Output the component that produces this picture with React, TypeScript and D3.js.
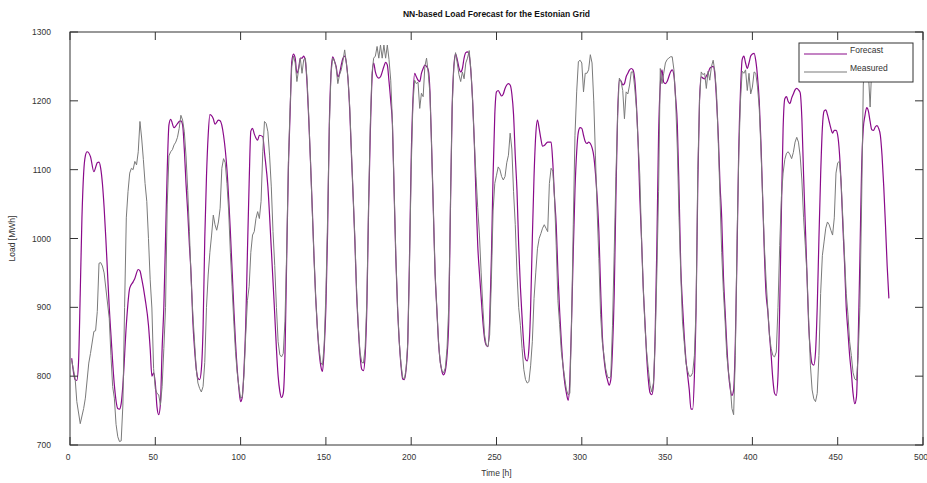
import { useEffect, useRef } from "react";
import * as d3 from "d3";

// hourly load readings [hour, MWh]
const forecast: [number, number][] = [
  [1,826],[3,795],[4,794],[5,820],[6,920],[7,1030],[8,1095],[9,1120],[10,1126],[12,1119],[14,1097],[16,1110],[17,1111],[18,1102],[19,1080],[20,1045],[21,1000],[22,950],[23,900],[24,860],[26,787],[28,753],[29,752],[30,760],[31,787],[33,874],[35,928],[37,937],[38,942],[40,955],[41,953],[42,942],[44,913],[46,874],[47,840],[48,800],[49,805],[50,790],[51,755],[52,744],[53,760],[54,840],[55,900],[56,1000],[57,1100],[58,1165],[59,1173],[61,1161],[63,1167],[64,1170],[65,1171],[66,1165],[67,1130],[68,1080],[69,1039],[70,990],[71,947],[72,880],[73,840],[74,811],[75,797],[76,795],[77,810],[78,870],[79,1000],[80,1090],[81,1150],[82,1180],[84,1174],[85,1166],[87,1172],[88,1171],[90,1150],[92,1100],[94,1010],[96,900],[97,850],[99,782],[100,763],[101,770],[102,810],[103,874],[104,980],[105,1080],[106,1156],[107,1160],[108,1152],[110,1143],[111,1150],[113,1148],[114,1125],[116,1075],[118,985],[120,890],[121,840],[122,800],[123,778],[124,769],[125,775],[126,830],[127,970],[128,1100],[129,1180],[130,1257],[131,1268],[132,1262],[133,1240],[134,1247],[135,1262],[136,1262],[137,1265],[138,1257],[139,1223],[140,1170],[141,1110],[142,1045],[143,975],[144,915],[145,870],[146,836],[147,815],[148,807],[149,840],[150,900],[151,1010],[152,1165],[153,1240],[154,1264],[155,1258],[156,1250],[157,1235],[158,1240],[159,1252],[160,1262],[161,1265],[162,1255],[163,1230],[164,1184],[165,1120],[166,1060],[167,995],[168,920],[169,870],[170,831],[171,810],[172,808],[173,830],[174,900],[175,1040],[176,1150],[177,1230],[178,1255],[179,1242],[180,1235],[181,1233],[182,1235],[184,1250],[185,1256],[186,1252],[187,1228],[188,1200],[189,1165],[190,1068],[191,971],[192,900],[193,850],[194,816],[195,796],[196,795],[197,810],[198,850],[199,971],[200,1116],[201,1200],[202,1240],[203,1235],[204,1230],[205,1228],[206,1240],[207,1247],[208,1252],[209,1250],[210,1245],[211,1213],[212,1130],[213,1040],[214,950],[215,899],[216,850],[218,807],[219,802],[220,808],[221,830],[222,880],[223,1044],[224,1189],[225,1250],[226,1268],[227,1260],[228,1248],[229,1242],[230,1247],[231,1262],[232,1270],[233,1271],[234,1266],[235,1242],[236,1200],[237,1140],[238,1060],[239,990],[240,950],[241,915],[242,880],[243,855],[244,845],[245,843],[246,880],[247,971],[248,1092],[249,1180],[250,1213],[251,1215],[252,1211],[253,1207],[254,1210],[255,1218],[256,1223],[257,1225],[258,1223],[259,1210],[260,1180],[261,1120],[262,1070],[263,990],[264,930],[265,885],[266,845],[267,825],[268,822],[269,840],[270,899],[271,1000],[272,1090],[273,1150],[274,1172],[275,1160],[276,1145],[277,1134],[278,1135],[280,1140],[282,1140],[283,1110],[284,1060],[285,1020],[286,950],[287,895],[288,850],[289,815],[290,790],[291,775],[292,765],[293,795],[294,880],[295,980],[296,1070],[297,1126],[298,1155],[299,1161],[300,1160],[301,1150],[302,1141],[303,1138],[304,1140],[305,1138],[306,1132],[307,1120],[308,1095],[309,1060],[310,1010],[311,930],[312,860],[313,826],[314,806],[315,795],[316,787],[317,795],[318,840],[319,920],[320,1060],[321,1180],[322,1230],[323,1229],[324,1223],[325,1225],[326,1235],[327,1240],[328,1245],[329,1247],[330,1245],[331,1232],[332,1195],[333,1140],[334,1060],[335,1000],[336,930],[337,880],[338,830],[339,795],[340,776],[341,773],[342,787],[343,860],[344,990],[345,1150],[346,1223],[347,1245],[348,1227],[349,1225],[350,1228],[351,1235],[352,1242],[353,1245],[354,1237],[355,1205],[356,1165],[357,1070],[358,960],[359,905],[360,860],[361,825],[362,802],[363,780],[364,752],[365,752],[366,800],[367,900],[368,1080],[369,1200],[370,1235],[371,1233],[372,1232],[373,1236],[374,1240],[375,1247],[376,1249],[377,1250],[378,1238],[379,1200],[380,1150],[381,1080],[382,1030],[383,947],[384,895],[385,845],[386,805],[387,782],[388,772],[389,780],[390,850],[391,980],[392,1130],[393,1213],[394,1260],[395,1265],[396,1255],[397,1247],[398,1255],[399,1265],[400,1268],[401,1269],[402,1258],[403,1235],[404,1200],[405,1140],[406,1060],[407,980],[408,920],[409,895],[410,860],[411,830],[412,795],[413,775],[414,772],[415,800],[416,900],[417,1040],[418,1160],[419,1203],[420,1206],[421,1199],[422,1196],[423,1204],[424,1210],[425,1216],[426,1218],[427,1216],[428,1212],[429,1174],[430,1092],[431,1020],[432,947],[433,874],[434,836],[435,818],[436,816],[437,835],[438,900],[439,1000],[440,1092],[441,1160],[442,1185],[443,1187],[444,1180],[445,1170],[446,1160],[447,1153],[448,1157],[449,1157],[450,1150],[451,1125],[452,1080],[453,1020],[454,965],[455,900],[456,865],[457,830],[458,805],[459,775],[460,760],[461,770],[462,850],[463,970],[464,1100],[465,1160],[466,1179],[467,1190],[468,1185],[469,1170],[470,1158],[471,1157],[472,1162],[473,1164],[474,1160],[475,1150],[476,1120],[477,1075],[478,1020],[479,960],[480,913],
];

const measured: [number, number][] = [
  [1,823],[3,797],[4,763],[6,731],[8,753],[9,768],[11,819],[12,833],[14,865],[15,866],[16,894],[17,964],[18,965],[19,960],[20,950],[21,928],[23,884],[24,830],[25,785],[26,768],[27,730],[28,712],[29,705],[30,706],[31,758],[32,900],[33,1030],[34,1068],[35,1095],[36,1102],[37,1100],[38,1112],[39,1107],[40,1126],[41,1170],[42,1146],[43,1115],[44,1080],[45,1054],[46,1000],[47,940],[48,899],[49,811],[50,782],[51,775],[52,773],[53,758],[54,785],[55,840],[56,900],[57,1050],[58,1120],[59,1126],[60,1129],[61,1136],[62,1140],[63,1147],[64,1160],[65,1179],[66,1172],[67,1155],[68,1120],[69,1070],[70,1010],[71,940],[72,890],[73,850],[74,810],[75,790],[76,782],[77,777],[78,785],[79,820],[80,900],[81,947],[82,980],[83,1005],[84,1034],[85,1020],[86,1012],[87,1024],[88,1044],[89,1102],[90,1116],[91,1110],[92,1080],[93,1040],[94,980],[95,930],[96,880],[97,836],[98,805],[99,785],[100,768],[101,770],[102,802],[103,860],[104,910],[105,930],[106,980],[107,1005],[108,1010],[109,1029],[110,1039],[111,1029],[112,1054],[113,1126],[114,1170],[115,1167],[116,1155],[117,1120],[118,1075],[119,1010],[120,961],[121,900],[122,850],[123,831],[124,828],[125,833],[126,880],[127,980],[128,1110],[129,1190],[130,1250],[131,1265],[132,1255],[133,1228],[134,1245],[135,1262],[136,1240],[137,1260],[138,1262],[139,1230],[140,1175],[141,1110],[142,1040],[143,975],[144,915],[145,870],[146,840],[147,820],[148,816],[149,845],[150,920],[151,1030],[152,1160],[153,1240],[154,1262],[155,1258],[156,1248],[157,1225],[158,1238],[159,1245],[160,1258],[161,1274],[162,1255],[163,1232],[164,1190],[165,1125],[166,1060],[167,1000],[168,925],[169,872],[170,835],[171,820],[172,819],[173,840],[174,910],[175,1050],[176,1165],[177,1240],[178,1262],[179,1265],[180,1279],[181,1262],[182,1281],[183,1262],[184,1281],[185,1262],[186,1281],[187,1260],[188,1230],[189,1170],[190,1070],[191,975],[192,900],[193,850],[194,818],[195,798],[196,796],[197,810],[198,850],[199,960],[200,1100],[201,1195],[202,1230],[203,1225],[204,1227],[205,1189],[206,1211],[207,1206],[208,1250],[209,1262],[210,1240],[211,1210],[212,1130],[213,1040],[214,950],[215,899],[216,850],[217,820],[218,808],[219,805],[220,812],[221,840],[222,900],[223,1050],[224,1190],[225,1250],[226,1270],[227,1255],[228,1238],[229,1228],[230,1242],[231,1232],[232,1255],[233,1262],[234,1273],[235,1245],[236,1200],[237,1140],[238,1090],[239,1045],[240,1005],[241,950],[242,900],[243,860],[244,845],[245,843],[246,860],[247,940],[248,1040],[249,1080],[250,1092],[251,1104],[252,1100],[253,1090],[254,1085],[255,1090],[256,1110],[257,1121],[258,1153],[259,1130],[260,1068],[261,1020],[262,950],[263,900],[264,874],[265,840],[266,810],[267,795],[268,790],[269,792],[270,815],[271,850],[272,913],[273,950],[274,985],[275,1000],[276,1007],[277,1015],[278,1020],[279,1015],[280,1010],[281,1080],[282,1102],[283,1098],[284,1060],[285,990],[286,910],[287,875],[288,836],[289,815],[290,797],[291,780],[292,773],[293,775],[294,880],[295,1020],[296,1150],[297,1213],[298,1257],[299,1259],[300,1255],[301,1213],[302,1240],[303,1240],[304,1245],[305,1267],[306,1255],[307,1200],[308,1120],[309,1040],[310,971],[311,890],[312,850],[313,830],[314,811],[315,800],[316,797],[317,800],[318,874],[319,980],[320,1090],[321,1180],[322,1233],[323,1228],[324,1215],[325,1174],[326,1213],[327,1210],[328,1223],[329,1242],[330,1242],[331,1220],[332,1190],[333,1140],[334,1092],[335,1000],[336,930],[337,874],[338,835],[339,810],[340,787],[341,777],[342,790],[343,850],[344,950],[345,1068],[346,1247],[347,1225],[348,1240],[349,1255],[350,1260],[351,1262],[352,1264],[353,1264],[354,1245],[355,1200],[356,1130],[357,1030],[358,950],[359,880],[360,850],[361,820],[362,808],[363,800],[364,800],[365,805],[366,830],[367,900],[368,1100],[369,1200],[370,1242],[371,1238],[372,1240],[373,1218],[374,1243],[375,1230],[376,1250],[377,1259],[378,1243],[379,1210],[380,1140],[381,1060],[382,980],[383,923],[384,880],[385,830],[386,805],[387,787],[388,753],[389,744],[390,830],[391,1000],[392,1120],[393,1200],[394,1243],[395,1240],[396,1245],[397,1215],[398,1240],[399,1210],[400,1220],[401,1242],[402,1240],[403,1220],[404,1190],[405,1130],[406,1060],[407,990],[408,940],[409,899],[410,860],[411,840],[412,830],[413,828],[414,835],[415,900],[416,990],[417,1060],[418,1095],[419,1115],[420,1124],[421,1126],[422,1122],[423,1116],[424,1125],[425,1140],[426,1147],[427,1140],[428,1120],[429,1085],[430,1030],[431,990],[432,947],[433,880],[434,816],[435,780],[436,767],[437,763],[438,775],[439,830],[440,920],[441,975],[442,995],[443,1015],[444,1024],[445,1020],[446,1012],[447,1005],[448,1030],[449,1095],[450,1110],[451,1112],[452,1082],[453,1030],[454,975],[455,920],[456,890],[457,850],[458,830],[459,805],[460,796],[461,794],[462,830],[463,900],[464,1050],[465,1223],[466,1260],[467,1250],[468,1240],[469,1191],[470,1250],[471,1260],
];

const xTicks = [0, 50, 100, 150, 200, 250, 300, 350, 400, 450, 500];
const yTicks = [700, 800, 900, 1000, 1100, 1200, 1300];
const seriesNames = ["Forecast", "Measured"];
const seriesColors = ["#8a0a8a", "#7a7a7a"];

const W = 927;
const H = 483;
const FONT = "'Liberation Sans', Arial, Helvetica, sans-serif";

const App = () => {
  const svgRef = useRef<SVGSVGElement>(null);

  useEffect(() => {
    const left = 70, right = 923, top = 32, bottom = 445;
    const x = d3.scaleLinear().domain([0, 500]).range([left, right]);
    const y = d3.scaleLinear().domain([700, 1300]).range([bottom, top]);

    const svg = d3.select(svgRef.current);
    svg.selectAll("*").remove();
    svg.append("rect").attr("width", W).attr("height", H).attr("fill", "#fff");

    const lineF = d3.line<[number, number]>()
      .x((d) => x(d[0]))
      .y((d) => y(d[1]))
      .curve(d3.curveMonotoneX);
    const lineM = d3.line<[number, number]>()
      .x((d) => x(d[0]))
      .y((d) => y(d[1]));

    svg.append("path").attr("d", lineF(forecast)).attr("fill", "none")
      .attr("stroke", seriesColors[0]).attr("stroke-width", 1.2);
    svg.append("path").attr("d", lineM(measured)).attr("fill", "none")
      .attr("stroke", seriesColors[1]).attr("stroke-width", 1);

    // frame + inward ticks
    const axisColor = "#333";
    const tl = 8;
    svg.append("rect").attr("x", left).attr("y", top)
      .attr("width", right - left).attr("height", bottom - top)
      .attr("fill", "none").attr("stroke", axisColor).attr("stroke-width", 1);

    const g = svg.append("g").attr("stroke", axisColor).attr("stroke-width", 1);
    xTicks.forEach((t) => {
      g.append("line").attr("x1", x(t)).attr("x2", x(t)).attr("y1", bottom).attr("y2", bottom - tl);
      g.append("line").attr("x1", x(t)).attr("x2", x(t)).attr("y1", top).attr("y2", top + tl);
    });
    yTicks.forEach((t) => {
      g.append("line").attr("x1", left).attr("x2", left + tl).attr("y1", y(t)).attr("y2", y(t));
      g.append("line").attr("x1", right).attr("x2", right - tl).attr("y1", y(t)).attr("y2", y(t));
    });

    const txt = svg.append("g").attr("font-family", FONT).attr("fill", "#333").attr("font-size", 8.5);
    xTicks.forEach((t) => {
      txt.append("text").attr("x", x(t) - 2).attr("y", bottom + 15).attr("text-anchor", "middle").text(t);
    });
    yTicks.forEach((t) => {
      txt.append("text").attr("x", left - 19).attr("y", y(t) + 3).attr("text-anchor", "end").text(t);
    });

    txt.append("text").attr("x", (left + right) / 2).attr("y", 476).attr("text-anchor", "middle").text("Time [h]");
    txt.append("text").attr("transform", `translate(15,${(top + bottom) / 2}) rotate(-90)`)
      .attr("text-anchor", "middle").text("Load [MWh]");
    svg.append("text").attr("x", (left + right) / 2).attr("y", 17).attr("text-anchor", "middle")
      .attr("font-family", FONT).attr("font-size", 8.5).attr("font-weight", "bold").attr("fill", "#111")
      .text("NN-based Load Forecast for the Estonian Grid");

    // legend
    const lg = svg.append("g");
    lg.append("rect").attr("x", 799).attr("y", 43).attr("width", 114).attr("height", 39)
      .attr("fill", "#fff").attr("stroke", axisColor).attr("stroke-width", 1);
    seriesNames.forEach((name, i) => {
      const ly = 54 + i * 18;
      lg.append("line").attr("x1", 804).attr("x2", 847).attr("y1", ly).attr("y2", ly)
        .attr("stroke", seriesColors[i]).attr("stroke-width", 1.2);
      lg.append("text").attr("x", 850).attr("y", ly - 1).attr("font-family", FONT)
        .attr("font-size", 8.5).attr("fill", "#333").text(name);
    });
  }, []);

  return (
    <div style={{ position: "absolute", left: 0, top: 0 }}>
      <svg ref={svgRef} width={W} height={H}></svg>
    </div>
  );
};

export default App;
